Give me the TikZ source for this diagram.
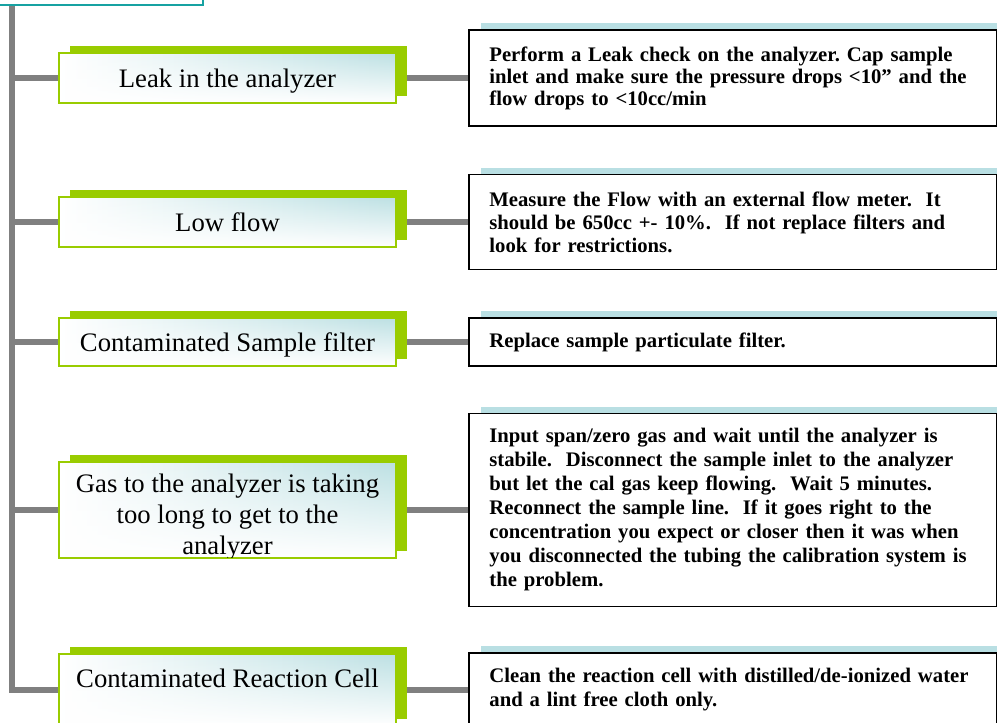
\documentclass[tikz,border=0pt]{standalone}
\usepackage{fontspec}
\setmainfont{Liberation Serif}
\usetikzlibrary{fadings,backgrounds}
\definecolor{lime}{HTML}{99CC00}
\definecolor{paleteal}{HTML}{BCE0E3}
\definecolor{stripteal}{HTML}{B9DFE3}
\definecolor{edgeteal}{HTML}{17A2A2}
\definecolor{linkgray}{HTML}{808080}
\tikzfading[name=fadebottom, top color=transparent!100, middle color=transparent!85, bottom color=transparent!0]
\newcommand\tline[1]{\mbox{#1}}
\frenchspacing
\begin{document}
\begin{tikzpicture}[x=1pt,y=-1pt,
  cause/.style={shape=rectangle, left color=white, middle color=paleteal!65, right color=paleteal,
    draw=lime, line width=1.5pt, minimum width=337pt, inner sep=0pt,
    align=center, text height=19pt, text depth=0pt,
    font=\fontsize{26.7}{31}\selectfont,
    preaction={fill=lime, draw=none, transform canvas={shift={(11pt,7.5pt)}}},
    postaction={fill=white, path fading=fadebottom},
    postaction={draw=lime, line width=1.5pt}},
  causetext/.style={inner sep=0pt, align=center, font=\fontsize{26.7}{31}\selectfont},
  effect/.style={shape=rectangle, draw=black, line width=1.8pt, fill=white,
    minimum width=528pt, text width=487pt, inner xsep=20.5pt, inner ysep=0pt,
    align=left, anchor=west,
    font=\bfseries\fontsize{20.7}{24}\selectfont,
    preaction={fill=stripteal, draw=none, transform canvas={shift={(12pt,7pt)}}}},
  link/.style={draw=linkgray, line width=6pt, line join=miter}]

\useasboundingbox (0,0) rectangle (997,723);

% heading box, cut by the page edge
\node[draw=edgeteal, line width=2pt, fill=white, minimum width=213pt,
      minimum height=35pt, inner sep=0pt] (head) at (96.5,-12.5) {};
\coordinate (trunktop) at (12,5);

% causes
\node[cause, minimum height=50pt] (c1) at (227.5,78) {Leak in the analyzer};
\node[cause, minimum height=50pt] (c2) at (227.5,222) {Low flow};
\node[cause, minimum height=48pt] (c3) at (227.5,342) {Contaminated Sample filter};
\node[cause, minimum height=96pt] (c4) at (227.5,510) {};
\node[cause, minimum height=72pt] (c5) at (227.5,690) {};

\begin{scope}
  \clip ([shift={(1.5pt,1.5pt)}]c4.south west) rectangle ([shift={(-1.5pt,-1.5pt)}]c4.north east);
  \node[causetext, anchor=north] (t4) at (227.5,474)
    {Gas to the analyzer is taking\\too long to get to the\\analyzer};
\end{scope}
\node[causetext, anchor=base] (t5) at (227.5,687) {Contaminated Reaction Cell};

% remedies
\node[effect, minimum height=96pt, font=\bfseries\fontsize{20.7}{22}\selectfont] (r1) at (468,78)
  {\tline{Perform a Leak check on the analyzer. Cap sample}\\
   \tline{inlet and make sure the pressure drops <10” and the}\\
   \tline{flow drops to <10cc/min}};
\node[effect, minimum height=95pt, font=\bfseries\fontsize{20.7}{23}\selectfont] (r2) at (468,222)
  {\tline{Measure the Flow with an external flow meter.\ \ It}\\
   \tline{should be 650cc +- 10\%.\ \ If not replace filters and}\\
   \tline{look for restrictions.}};
\node[effect, minimum height=48pt] (r3) at (468,342)
  {\tline{Replace sample particulate filter.}};
\node[effect, minimum height=193pt] (r4) at (468,510)
  {\tline{Input span/zero gas and wait until the analyzer is}\\
   \tline{stabile.\ \ Disconnect the sample inlet to the analyzer}\\
   \tline{but let the cal gas keep flowing.\ \ Wait 5 minutes.}\\
   \tline{Reconnect the sample line.\ \ If it goes right to the}\\
   \tline{concentration you expect or closer then it was when}\\
   \tline{you disconnected the tubing the calibration system is}\\
   \tline{the problem.}};
\node[effect, minimum height=74pt] (r5) at (468,690)
  {\tline{Clean the reaction cell with distilled/de-ionized water}\\
   \tline{and a lint free cloth only.}};

% connectors
\begin{scope}[on background layer]
  \draw[link] (trunktop) |- (c5.west);
  \foreach \i in {1,2,3,4}
    \draw[link] (trunktop |- c\i.west) -- (c\i.west);
  \foreach \i in {1,2,3,4,5}
    \draw[link] (c\i.east) -- (c\i.east -| r\i.west);
\end{scope}
\end{tikzpicture}
\end{document}
